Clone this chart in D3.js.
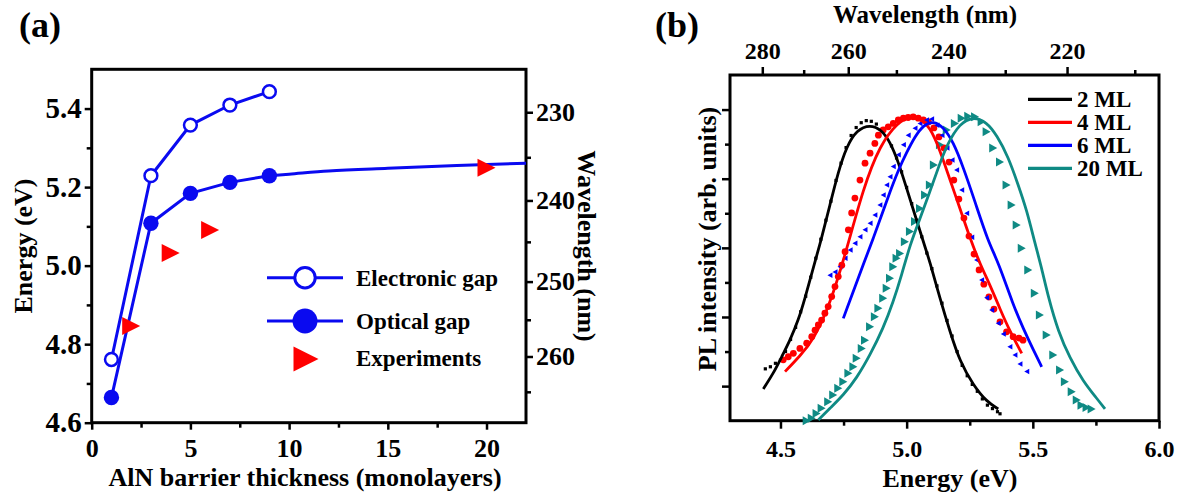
<!DOCTYPE html>
<html>
<head>
<meta charset="utf-8">
<script src="https://cdn.jsdelivr.net/npm/d3@7"></script>
<style>
  body { margin: 0; background: #fff; }
  svg text { font-family: "Liberation Serif", "Times New Roman", serif; font-weight: bold; fill: #000; }
</style>
</head>
<body>
<svg id="fig" width="1178" height="497"></svg>
<script>
const HC = 1239.84; // eV·nm, converts photon energy to wavelength

// ---------- (a) band gap versus AlN barrier thickness ----------
const thickness      = [1, 3, 5, 7, 9];
const electronicGap  = [4.761, 5.229, 5.358, 5.409, 5.443];
const opticalGap     = [4.664, 5.108, 5.184, 5.212, 5.229];
const opticalTailX   = [9, 10, 12, 15, 18.5, 22];
const opticalTailE   = [5.229, 5.233, 5.241, 5.248, 5.255, 5.261];
const expThickness   = [2, 4, 6, 20];
const expEnergy      = [4.846, 5.032, 5.091, 5.249];
const aXMajor = [0, 5, 10, 15, 20];
const aXMinor = [2.5, 7.5, 12.5, 17.5];
const aYMajor = [4.6, 4.8, 5.0, 5.2, 5.4];
const aYMinor = [4.7, 4.9, 5.1, 5.3];
const aWlMajor = [230, 240, 250, 260];
const aWlMinor = [235, 245, 255, 265];
const aLegend = ["Electronic gap", "Optical gap", "Experiments"];

// ---------- (b) PL spectra ----------
const plSeries = ["2 ML", "4 ML", "6 ML", "20 ML"];
const plColors = ["#000000", "#ff0000", "#0000ff", "#0f8a84"];

// fitted curves
const fit2E  = [4.432,4.472,4.505,4.538,4.571,4.597,4.624,4.663,4.696,4.729,4.762,4.802,4.855,4.901,4.934,4.967,5.000,5.033,5.066,5.092,5.132,5.172,5.211,5.264,5.317,5.363];
const fit2I  = [0.092,0.137,0.185,0.233,0.291,0.354,0.426,0.528,0.624,0.720,0.793,0.841,0.857,0.841,0.807,0.749,0.672,0.595,0.518,0.460,0.354,0.257,0.171,0.103,0.055,0.034];
const fit4E  = [4.518,4.577,4.630,4.696,4.762,4.828,4.894,4.967,5.013,5.053,5.092,5.132,5.172,5.211,5.251,5.291,5.330,5.370,5.409,5.456];
const fit4I  = [0.142,0.187,0.233,0.335,0.494,0.672,0.798,0.865,0.879,0.874,0.850,0.783,0.696,0.615,0.528,0.453,0.393,0.323,0.259,0.195];
const fit6E  = [4.749,4.842,4.868,4.901,4.934,4.967,5.000,5.033,5.066,5.106,5.145,5.185,5.224,5.271,5.323,5.363,5.422,5.462,5.502,5.535];
const fit6I  = [0.296,0.479,0.528,0.595,0.662,0.725,0.776,0.822,0.855,0.867,0.850,0.806,0.734,0.633,0.518,0.459,0.335,0.267,0.205,0.156];
const fit20E = [4.650,4.696,4.749,4.802,4.855,4.907,4.947,4.980,5.013,5.053,5.092,5.125,5.159,5.211,5.264,5.317,5.357,5.403,5.442,5.476,5.508,5.535,5.561,5.601,5.647,5.700,5.753,5.786];
const fit20I = [0.002,0.036,0.074,0.123,0.190,0.267,0.344,0.421,0.508,0.585,0.662,0.731,0.798,0.861,0.879,0.864,0.826,0.763,0.682,0.609,0.514,0.442,0.358,0.257,0.181,0.113,0.065,0.034];

// measured spectra
const pl2E = [4.44,4.46,4.48,4.50,4.52,4.54,4.56,4.58,4.60,4.62,4.64,4.66,4.68,4.70,4.72,4.74,4.76,4.78,4.80,4.82,4.84,4.86,4.88,4.90,4.92,4.94,4.96,4.98,5.00,5.02,5.04,5.06,5.08,5.10,5.12,5.14,5.16,5.18,5.20,5.22,5.24,5.26,5.28,5.30,5.32,5.34,5.36,5.37];
const pl2I = [0.150,0.156,0.166,0.175,0.200,0.235,0.270,0.315,0.360,0.415,0.470,0.525,0.580,0.635,0.695,0.745,0.790,0.825,0.848,0.862,0.868,0.866,0.858,0.842,0.822,0.795,0.760,0.720,0.675,0.628,0.580,0.532,0.485,0.440,0.390,0.340,0.290,0.245,0.200,0.160,0.130,0.105,0.085,0.063,0.045,0.035,0.026,0.020];
const pl4E = [4.511,4.531,4.551,4.577,4.604,4.624,4.637,4.650,4.663,4.676,4.689,4.703,4.716,4.729,4.743,4.756,4.769,4.782,4.795,4.815,4.835,4.855,4.874,4.888,4.907,4.927,4.947,4.967,4.987,5.006,5.026,5.046,5.066,5.086,5.108,5.128,5.148,5.168,5.187,5.207,5.227,5.247,5.267,5.287,5.306,5.326,5.346,5.370,5.396,5.422,5.445,5.461];
const pl4I = [0.176,0.185,0.195,0.209,0.224,0.243,0.262,0.277,0.291,0.311,0.330,0.359,0.388,0.417,0.450,0.489,0.552,0.601,0.644,0.696,0.745,0.774,0.802,0.826,0.841,0.850,0.860,0.870,0.875,0.877,0.879,0.875,0.870,0.864,0.847,0.821,0.789,0.748,0.696,0.641,0.586,0.534,0.482,0.436,0.395,0.358,0.323,0.286,0.257,0.243,0.239,0.233];
const pl6E = [4.696,4.716,4.736,4.756,4.776,4.795,4.815,4.835,4.855,4.874,4.894,4.907,4.921,4.934,4.947,4.967,4.987,5.006,5.033,5.053,5.079,5.099,5.120,5.140,5.160,5.180,5.198,5.218,5.238,5.258,5.277,5.297,5.317,5.337,5.363,5.383,5.409,5.429,5.449,5.476];
const pl6I = [0.421,0.430,0.445,0.470,0.494,0.513,0.532,0.552,0.571,0.595,0.624,0.653,0.682,0.706,0.735,0.769,0.798,0.826,0.846,0.860,0.870,0.873,0.855,0.826,0.789,0.754,0.725,0.667,0.600,0.531,0.465,0.407,0.356,0.320,0.282,0.251,0.214,0.190,0.164,0.142];
const pl20E = [4.604,4.624,4.643,4.663,4.689,4.709,4.729,4.749,4.769,4.789,4.802,4.822,4.835,4.855,4.874,4.888,4.907,4.921,4.934,4.947,4.960,4.974,4.993,5.013,5.033,5.053,5.073,5.092,5.108,5.132,5.159,5.191,5.218,5.244,5.271,5.297,5.317,5.343,5.370,5.396,5.416,5.436,5.456,5.482,5.508,5.528,5.555,5.581,5.608,5.627,5.654,5.674,5.693,5.713,5.733];
const pl20I = [0.000,0.007,0.021,0.036,0.055,0.074,0.094,0.113,0.137,0.156,0.181,0.209,0.233,0.272,0.301,0.325,0.354,0.383,0.412,0.445,0.470,0.484,0.518,0.547,0.576,0.614,0.653,0.682,0.740,0.798,0.841,0.860,0.875,0.881,0.879,0.865,0.836,0.789,0.748,0.682,0.624,0.566,0.499,0.436,0.369,0.306,0.248,0.190,0.147,0.113,0.084,0.060,0.045,0.038,0.034];

const bXMajor = [4.5, 5.0, 5.5, 6.0];
const bXMinor = [4.75, 5.25, 5.75];
const bWlMajor = [280, 260, 240, 220];
const bWlMinor = [270, 250, 230, 210];
const bYMajor = [0.1, 0.3, 0.5, 0.7, 0.9];
const bYMinor = [0.2, 0.4, 0.6, 0.8];

const svg = d3.select("#fig");
const FONT = '"Liberation Serif", "Times New Roman", serif';

function styleAxis(g, size) {
  g.select(".domain").remove();
  g.selectAll(".tick line").attr("stroke", "#000").attr("stroke-width", 2.5);
  g.selectAll(".tick text")
    .attr("font-size", size).attr("font-family", FONT)
    .attr("font-weight", "bold").attr("fill", "#000");
}
const rightTri = (w, h) => `M${-w/2},${-h/2}L${w/2},0L${-w/2},${h/2}Z`;
const leftTri  = (w, h) => `M${w/2},${-h/2}L${-w/2},0L${w/2},${h/2}Z`;

// =============== panel (a) ===============
const xA = d3.scaleLinear().domain([0, 22]).range([91.7, 526]);
const yA = d3.scaleLinear().domain([4.6, 5.5]).range([422.7, 69.3]);
const gA = svg.append("g");
const blueA = "#0a0af0";

gA.append("g").attr("transform", `translate(0,${yA.range()[0]})`)
  .call(d3.axisBottom(xA).tickValues(aXMajor).tickSize(7).tickPadding(9).tickFormat(d3.format("d")))
  .call(g => styleAxis(g, 26));
gA.append("g").attr("transform", `translate(0,${yA.range()[0]})`)
  .call(d3.axisBottom(xA).tickValues(aXMinor).tickSize(5).tickFormat(""))
  .call(g => styleAxis(g, 26));
gA.append("g").attr("transform", `translate(${xA.range()[0]},0)`)
  .call(d3.axisLeft(yA).tickValues(aYMajor).tickSize(7).tickPadding(3).tickFormat(d3.format(".1f")))
  .call(g => styleAxis(g, 29));
gA.append("g").attr("transform", `translate(${xA.range()[0]},0)`)
  .call(d3.axisLeft(yA).tickValues(aYMinor).tickSize(5).tickFormat(""))
  .call(g => styleAxis(g, 29));
gA.append("g").attr("transform", `translate(${xA.range()[1]},0)`)
  .call(d3.axisRight(yA).tickValues(aWlMajor.map(w => HC / w)).tickSize(7).tickPadding(3)
        .tickFormat(e => Math.round(HC / e)))
  .call(g => styleAxis(g, 26));
gA.append("g").attr("transform", `translate(${xA.range()[1]},0)`)
  .call(d3.axisRight(yA).tickValues(aWlMinor.map(w => HC / w)).tickSize(5).tickFormat(""))
  .call(g => styleAxis(g, 26));

gA.append("rect")
  .attr("x", xA.range()[0]).attr("y", yA.range()[1])
  .attr("width", xA.range()[1] - xA.range()[0]).attr("height", yA.range()[0] - yA.range()[1])
  .attr("fill", "none").attr("stroke", "#000").attr("stroke-width", 3);

const lineA = d3.line().x(d => xA(d[0])).y(d => yA(d[1]));
const elec = thickness.map((t, i) => [t, electronicGap[i]]);
const opt = thickness.map((t, i) => [t, opticalGap[i]]);
const tail = opticalTailX.map((t, i) => [t, opticalTailE[i]]);

gA.append("path").datum(elec).attr("d", lineA)
  .attr("fill", "none").attr("stroke", blueA).attr("stroke-width", 3);
gA.append("path").datum(opt).attr("d", lineA)
  .attr("fill", "none").attr("stroke", blueA).attr("stroke-width", 3);
gA.append("path").datum(tail).attr("d", lineA.curve(d3.curveMonotoneX))
  .attr("fill", "none").attr("stroke", blueA).attr("stroke-width", 3);

gA.selectAll("circle.elec").data(elec).join("circle").attr("class", "elec")
  .attr("cx", d => xA(d[0])).attr("cy", d => yA(d[1])).attr("r", 6.4)
  .attr("fill", "#fff").attr("stroke", blueA).attr("stroke-width", 2.5);
gA.selectAll("circle.opt").data(opt).join("circle").attr("class", "opt")
  .attr("cx", d => xA(d[0])).attr("cy", d => yA(d[1])).attr("r", 7.7)
  .attr("fill", blueA);
gA.selectAll("path.exp").data(expThickness.map((t, i) => [t, expEnergy[i]])).join("path")
  .attr("class", "exp")
  .attr("transform", d => `translate(${xA(d[0])},${yA(d[1])})`)
  .attr("d", rightTri(18, 18)).attr("fill", "#ff0000");

// legend (a)
const legA = gA.append("g");
[0, 1].forEach(i => {
  const y = [277.7, 321][i];
  legA.append("line").attr("x1", 267).attr("x2", 343).attr("y1", y).attr("y2", y)
    .attr("stroke", blueA).attr("stroke-width", 3);
  legA.append("circle").attr("cx", 305).attr("cy", y).attr("r", i === 0 ? 10.2 : 12.5)
    .attr("fill", i === 0 ? "#fff" : blueA)
    .attr("stroke", i === 0 ? blueA : "none").attr("stroke-width", 3);
});
legA.append("path").attr("transform", "translate(306,359)").attr("d", rightTri(25, 25)).attr("fill", "#ff0000");
aLegend.forEach((t, i) => {
  legA.append("text").attr("x", 356).attr("y", [277.7, 321, 358.3][i]).attr("dy", "0.35em")
    .attr("font-size", 23).text(t);
});

// titles (a)
svg.append("text").attr("x", 19).attr("y", 37).attr("font-size", 36).text("(a)");
svg.append("text").attr("transform", `translate(32,${(yA.range()[0] + yA.range()[1]) / 2}) rotate(-90)`)
  .attr("text-anchor", "middle").attr("font-size", 26).text("Energy (eV)");
svg.append("text").attr("x", 305).attr("y", 486).attr("text-anchor", "middle")
  .attr("font-size", 26).text("AlN barrier thickness (monolayers)");
svg.append("text").attr("transform", `translate(578,${(yA.range()[0] + yA.range()[1]) / 2}) rotate(90)`)
  .attr("text-anchor", "middle").attr("font-size", 26).text("Wavelength (nm)");

// =============== panel (b) ===============
const xB = d3.scaleLinear().domain([4.3, 6.0]).range([730, 1159]);
const yB = d3.scaleLinear().domain([0, 1]).range([420.7, 75]);
const gB = svg.append("g");

gB.append("g").attr("transform", `translate(0,${yB.range()[0]})`)
  .call(d3.axisBottom(xB).tickValues(bXMajor).tickSize(8).tickPadding(11).tickFormat(d3.format(".1f")))
  .call(g => styleAxis(g, 24));
gB.append("g").attr("transform", `translate(0,${yB.range()[0]})`)
  .call(d3.axisBottom(xB).tickValues(bXMinor).tickSize(5).tickFormat(""))
  .call(g => styleAxis(g, 24));
gB.append("g").attr("transform", `translate(0,${yB.range()[1]})`)
  .call(d3.axisTop(xB).tickValues(bWlMajor.map(w => HC / w)).tickSize(8).tickPadding(8)
        .tickFormat(e => Math.round(HC / e)))
  .call(g => styleAxis(g, 24));
gB.append("g").attr("transform", `translate(0,${yB.range()[1]})`)
  .call(d3.axisTop(xB).tickValues(bWlMinor.map(w => HC / w)).tickSize(5).tickFormat(""))
  .call(g => styleAxis(g, 24));
gB.append("g").attr("transform", `translate(${xB.range()[0]},0)`)
  .call(d3.axisLeft(yB).tickValues(bYMajor).tickSize(8).tickFormat(""))
  .call(g => styleAxis(g, 24));
gB.append("g").attr("transform", `translate(${xB.range()[0]},0)`)
  .call(d3.axisLeft(yB).tickValues(bYMinor).tickSize(5).tickFormat(""))
  .call(g => styleAxis(g, 24));

gB.append("rect")
  .attr("x", xB.range()[0]).attr("y", yB.range()[1])
  .attr("width", xB.range()[1] - xB.range()[0]).attr("height", yB.range()[0] - yB.range()[1])
  .attr("fill", "none").attr("stroke", "#000").attr("stroke-width", 3);

const zip = (a, b) => a.map((v, i) => [v, b[i]]);
const fits = [zip(fit2E, fit2I), zip(fit4E, fit4I), zip(fit6E, fit6I), zip(fit20E, fit20I)];
const meas = [zip(pl2E, pl2I), zip(pl4E, pl4I), zip(pl6E, pl6I), zip(pl20E, pl20I)];
// fitted profiles are drawn as smooth B-splines through the read points
const lineB = d3.line().x(d => xB(d[0])).y(d => yB(d[1])).curve(d3.curveBasis);

const plot = gB.append("g");
// measured points
plot.selectAll("rect.s2").data(meas[0]).join("rect").attr("class", "s2")
  .attr("x", d => xB(d[0]) - 1.6).attr("y", d => yB(d[1]) - 1.6)
  .attr("width", 3.2).attr("height", 3.2).attr("fill", plColors[0]);
plot.selectAll("circle.s4").data(meas[1]).join("circle").attr("class", "s4")
  .attr("cx", d => xB(d[0])).attr("cy", d => yB(d[1])).attr("r", 3.4).attr("fill", plColors[1]);
plot.selectAll("path.s6").data(meas[2]).join("path").attr("class", "s6")
  .attr("transform", d => `translate(${xB(d[0])},${yB(d[1])})`)
  .attr("d", leftTri(5, 5.5)).attr("fill", plColors[2]);
plot.selectAll("path.s20").data(meas[3]).join("path").attr("class", "s20")
  .attr("transform", d => `translate(${xB(d[0])},${yB(d[1])})`)
  .attr("d", rightTri(8, 9)).attr("fill", plColors[3]);
// fitted curves
fits.forEach((f, i) => {
  plot.append("path").datum(f).attr("d", lineB)
    .attr("fill", "none").attr("stroke", plColors[i]).attr("stroke-width", 2.8);
});

// legend (b)
plSeries.forEach((s, i) => {
  const y = 99.3 + i * 23;
  gB.append("line").attr("x1", 1028).attr("x2", 1072).attr("y1", y).attr("y2", y)
    .attr("stroke", plColors[i]).attr("stroke-width", 3.2);
  gB.append("text").attr("x", 1077).attr("y", y).attr("dy", "0.35em")
    .attr("font-size", 23).text(s);
});

// titles (b)
svg.append("text").attr("x", 655).attr("y", 37).attr("font-size", 36).text("(b)");
svg.append("text").attr("x", 925).attr("y", 23).attr("text-anchor", "middle")
  .attr("font-size", 25).text("Wavelength (nm)");
svg.append("text").attr("x", 950).attr("y", 487).attr("text-anchor", "middle")
  .attr("font-size", 26).text("Energy (eV)");
svg.append("text").attr("transform", `translate(716,239) rotate(-90)`)
  .attr("text-anchor", "middle").attr("font-size", 26).text("PL intensity (arb. units)");
</script>
</body>
</html>
